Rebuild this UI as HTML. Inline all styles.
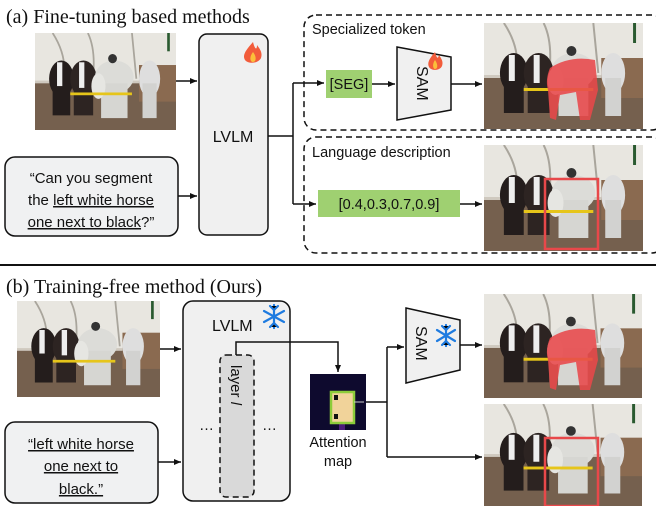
<!DOCTYPE html>
<html><head><meta charset="utf-8"><style>
html,body{margin:0;padding:0;background:#fff;}
svg{display:block}
.s{font-family:"Liberation Sans","DejaVu Sans",sans-serif;fill:#111}
.r{font-family:"Liberation Serif",serif;fill:#111}
</style></head><body>
<svg width="656" height="506" viewBox="0 0 656 506" xmlns="http://www.w3.org/2000/svg">
<defs>
<marker id="a" markerWidth="8" markerHeight="8" refX="7" refY="4" orient="auto" markerUnits="userSpaceOnUse"><path d="M0,1 L7,4 L0,7z" fill="#111"/></marker>
<symbol id="ph" viewBox="0 0 160 106" preserveAspectRatio="none">
<rect width="160" height="106" fill="#cfc9bf"/>
<rect width="160" height="52" fill="#e8e6e0"/>
<path d="M20,0 Q40,30 30,60 M60,0 Q70,20 65,55 M110,0 L115,50" stroke="#a9a59c" stroke-width="2" fill="none"/>
<rect y="55" width="160" height="51" fill="#75604e"/>
<rect x="118" y="35" width="42" height="40" fill="#8a6a50"/>
<rect x="150" y="0" width="3" height="20" fill="#2a5a30"/>
<ellipse cx="30" cy="50" rx="14" ry="20" fill="#241d1c"/>
<rect x="20" y="55" width="20" height="35" fill="#241d1c"/>
<ellipse cx="55" cy="50" rx="15" ry="20" fill="#2d2422"/>
<rect x="44" y="58" width="22" height="32" fill="#2d2422"/>
<rect x="50" y="32" width="6" height="28" fill="#eee"/>
<rect x="25" y="32" width="6" height="26" fill="#eee"/>
<ellipse cx="90" cy="48" rx="22" ry="18" fill="#dcdcd8"/>
<rect x="75" y="55" width="30" height="38" fill="#d6d6d2"/>
<ellipse cx="72" cy="58" rx="8" ry="14" fill="#e6e6e2"/>
<ellipse cx="130" cy="50" rx="12" ry="20" fill="#dedede"/>
<rect x="122" y="55" width="16" height="38" fill="#d2d2d0"/>
<rect x="40" y="65" width="70" height="3" fill="#e6c51a"/>
<circle cx="88" cy="28" r="5" fill="#333"/>
</symbol>
</defs>

<!-- (a) -->
<text x="6" y="23" class="r" font-size="20">(a) Fine-tuning based methods</text>
<use href="#ph" x="35" y="33" width="141" height="97"/>
<rect x="5" y="157" width="173" height="79" rx="10" fill="#f0f1f2" stroke="#111" stroke-width="1.5"/>
<text class="s" font-size="15" text-anchor="middle"><tspan x="91" y="183">“Can you segment</tspan><tspan x="91" y="205">the <tspan text-decoration="underline">left white horse</tspan></tspan><tspan x="91" y="227"><tspan text-decoration="underline">one next to black</tspan>?”</tspan></text>
<rect x="199" y="34" width="69" height="201" rx="8" fill="#f0f0f0" stroke="#111" stroke-width="1.5"/>
<text x="233" y="142" class="s" font-size="16" text-anchor="middle">LVLM</text>
<path d="M253,42 C246,50 242,55 245,60 C248,64 258,64 261,58 C263,52 259,48 257,45 C257,50 255,50 253,42z" fill="#f25c3b"/>
<path d="M253,52 C249,57 250,62 253,62 C256,62 257,57 253,52z" fill="#fbbf3a"/>
<line x1="176" y1="81" x2="197" y2="81" stroke="#111" stroke-width="1.5" marker-end="url(#a)"/>
<line x1="178" y1="196" x2="197" y2="196" stroke="#111" stroke-width="1.5" marker-end="url(#a)"/>
<path d="M268,136 H293 M293,83 V204" stroke="#111" stroke-width="1.5" fill="none"/>
<line x1="293" y1="83" x2="324" y2="83" stroke="#111" stroke-width="1.5" marker-end="url(#a)"/>
<line x1="293" y1="204" x2="316" y2="204" stroke="#111" stroke-width="1.5" marker-end="url(#a)"/>
<rect x="304" y="15" width="360" height="115" rx="12" fill="none" stroke="#111" stroke-width="1.5" stroke-dasharray="6,4"/>
<rect x="304" y="137" width="360" height="116" rx="12" fill="none" stroke="#111" stroke-width="1.5" stroke-dasharray="6,4"/>
<text x="312" y="34" class="s" font-size="14.5">Specialized token</text>
<text x="312" y="157" class="s" font-size="14.5">Language description</text>
<rect x="326" y="70" width="46" height="28" fill="#9fd071"/>
<text x="349" y="89" class="s" font-size="14.5" text-anchor="middle">[SEG]</text>
<line x1="372" y1="84" x2="395" y2="84" stroke="#111" stroke-width="1.5" marker-end="url(#a)"/>
<path d="M397,47 L451,57 L451,110 L397,120z" fill="#f0f0f0" stroke="#111" stroke-width="1.5"/>
<text transform="translate(417,66) rotate(90)" class="s" font-size="16">SAM</text>
<path d="M435,52 C429,59 427,63 429,67 C431,71 440,71 442,66 C444,61 440,57 439,55 C438,59 437,59 435,52z" fill="#f25c3b"/>
<path d="M435,60 C432,64 433,69 435,69 C438,69 438,64 435,60z" fill="#fbbf3a"/>
<line x1="451" y1="84" x2="482" y2="84" stroke="#111" stroke-width="1.5" marker-end="url(#a)"/>
<use href="#ph" x="484" y="23" width="159" height="106"/>
<path d="M550,68 Q570,55 595,60 L598,90 L590,120 L580,120 L576,92 L560,95 L556,120 L550,118 L548,90 Q545,80 550,68z" fill="#e8484a" opacity="0.88"/>
<rect x="318" y="190" width="142" height="27" fill="#9fd071"/>
<text x="389" y="209" class="s" font-size="14.5" text-anchor="middle">[0.4,0.3,0.7,0.9]</text>
<line x1="460" y1="204" x2="482" y2="204" stroke="#111" stroke-width="1.5" marker-end="url(#a)"/>
<use href="#ph" x="484" y="145" width="159" height="106"/>
<rect x="545" y="179" width="53" height="70" fill="none" stroke="#e8484a" stroke-width="2.5"/>

<line x1="0" y1="265" x2="656" y2="265" stroke="#111" stroke-width="2"/>

<!-- (b) -->
<text x="6" y="293" class="r" font-size="20">(b) Training-free method (Ours)</text>
<use href="#ph" x="17" y="301" width="143" height="96"/>
<rect x="5" y="422" width="153" height="81" rx="10" fill="#f0f1f2" stroke="#111" stroke-width="1.5"/>
<text class="s" font-size="15" text-anchor="middle" text-decoration="underline"><tspan x="81" y="449">“left white horse</tspan><tspan x="81" y="471">one next to</tspan><tspan x="81" y="494">black.”</tspan></text>
<line x1="160" y1="349" x2="181" y2="349" stroke="#111" stroke-width="1.5" marker-end="url(#a)"/>
<line x1="158" y1="462" x2="181" y2="462" stroke="#111" stroke-width="1.5" marker-end="url(#a)"/>
<rect x="183" y="301" width="107" height="200" rx="10" fill="#f0f0f0" stroke="#111" stroke-width="1.5"/>
<text x="212" y="331" class="s" font-size="16">LVLM</text>
<g stroke="#1e7be0" stroke-width="2.2" stroke-linecap="round">
<path d="M274,305 V328 M264,311 L284,322 M264,322 L284,311"/>
<path d="M270,306 L274,310 L278,306 M270,327 L274,323 L278,327"/>
</g>
<rect x="220" y="355" width="34" height="142" rx="6" fill="#d9d9d9" stroke="#111" stroke-width="1.5" stroke-dasharray="6,4"/>
<text transform="translate(231,365) rotate(90)" class="s" font-size="15">layer <tspan font-style="italic">l</tspan></text>
<text x="199" y="430" class="s" font-size="15">…</text>
<text x="262" y="430" class="s" font-size="15">…</text>
<path d="M236,355 V342 H338 V372" stroke="#111" stroke-width="1.5" fill="none" marker-end="url(#a)"/>
<rect x="310" y="374" width="56" height="56" fill="#0e0a2e"/>
<rect x="339" y="423" width="6" height="7" fill="#4b1b7a"/>
<rect x="331" y="392" width="23" height="31" fill="#f1d39a" stroke="#8ccc3a" stroke-width="2.5"/>
<rect x="334" y="395" width="4" height="5" fill="#111"/>
<rect x="334" y="414" width="4" height="5" fill="#111"/>
<line x1="354" y1="402" x2="364" y2="402" stroke="#ccc" stroke-width="1"/>
<text x="338" y="447" class="s" font-size="14.5" text-anchor="middle">Attention</text>
<text x="338" y="466" class="s" font-size="14.5" text-anchor="middle">map</text>
<path d="M366,402 H387 M387,347 V457" stroke="#111" stroke-width="1.5" fill="none"/>
<line x1="387" y1="347" x2="404" y2="347" stroke="#111" stroke-width="1.5" marker-end="url(#a)"/>
<line x1="387" y1="457" x2="482" y2="457" stroke="#111" stroke-width="1.5" marker-end="url(#a)"/>
<path d="M406,308 L460,320 L460,370 L406,383z" fill="#f0f0f0" stroke="#111" stroke-width="1.5"/>
<text transform="translate(416,326) rotate(90)" class="s" font-size="16">SAM</text>
<g stroke="#1e7be0" stroke-width="2.2" stroke-linecap="round">
<path d="M446,325 V346 M437,330 L455,341 M437,341 L455,330"/>
<path d="M442,326 L446,330 L450,326 M442,345 L446,341 L450,345"/>
</g>
<line x1="460" y1="345" x2="482" y2="345" stroke="#111" stroke-width="1.5" marker-end="url(#a)"/>
<use href="#ph" x="484" y="294" width="158" height="104"/>
<path d="M550,338 Q570,325 595,330 L598,360 L590,390 L580,390 L576,362 L560,365 L556,390 L550,388 L548,360 Q545,350 550,338z" fill="#e8484a" opacity="0.88"/>
<use href="#ph" x="484" y="404" width="158" height="102"/>
<rect x="545" y="438" width="53" height="68" fill="none" stroke="#e8484a" stroke-width="2.5"/>
</svg>
</body></html>
